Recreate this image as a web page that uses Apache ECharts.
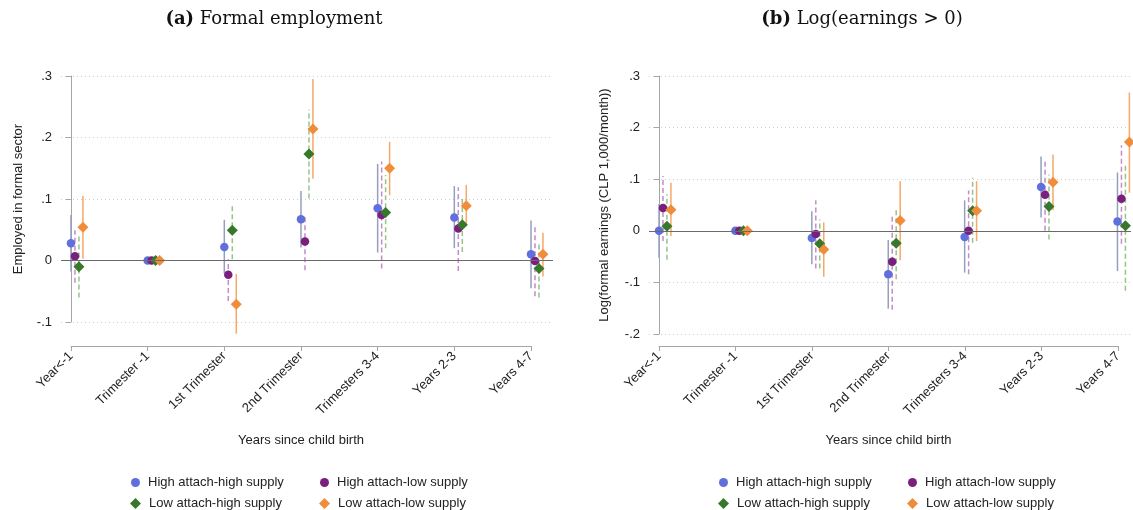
<!DOCTYPE html>
<html>
<head>
<meta charset="utf-8">
<script src="https://cdn.jsdelivr.net/npm/echarts@6/dist/echarts.min.js"></script>
<style>
  html, body { margin: 0; padding: 0; background: #fff; }
  #chart { width: 1133px; height: 510px; }
</style>
</head>
<body>
<div id="chart"></div>
<script>
// Event-time categories (x axis)
const categories = ['Year<-1', 'Trimester -1', '1st Trimester', '2nd Trimester', 'Trimesters 3-4', 'Years 2-3', 'Years 4-7'];
const groupNames = ['High attach-high supply', 'High attach-low supply', 'Low attach-high supply', 'Low attach-low supply'];

// y tick values
const empTicks = [-0.1, 0, 0.1, 0.2, 0.3];
const earnTicks = [-0.2, -0.1, 0, 0.1, 0.2, 0.3];

// (a) Formal employment: point estimates and 95% CI bounds
const empHHEst = [0.028, 0, 0.022, 0.067, 0.085, 0.070, 0.010];
const empHHLo  = [-0.018, 0, -0.021, 0.021, 0.013, 0.020, -0.045];
const empHHHi  = [0.074, 0, 0.066, 0.113, 0.157, 0.121, 0.065];

const empHLEst = [0.007, 0, -0.023, 0.031, 0.074, 0.052, -0.001];
const empHLLo  = [-0.036, 0, -0.066, -0.016, -0.013, -0.017, -0.058];
const empHLHi  = [0.049, 0, 0.002, 0.074, 0.161, 0.119, 0.055];

const empLHEst = [-0.010, 0, 0.049, 0.173, 0.078, 0.058, -0.013];
const empLHLo  = [-0.060, 0, 0.002, 0.101, 0.020, 0.014, -0.060];
const empLHHi  = [0.043, 0, 0.092, 0.245, 0.139, 0.102, 0.028];

const empLLEst = [0.054, 0, -0.071, 0.214, 0.150, 0.089, 0.010];
const empLLLo  = [0.003, 0, -0.119, 0.133, 0.106, 0.056, -0.026];
const empLLHi  = [0.105, 0, -0.022, 0.295, 0.193, 0.123, 0.045];

// (b) Log(earnings > 0): point estimates and 95% CI bounds
const earnHHEst = [0, 0, -0.014, -0.084, -0.012, 0.085, 0.018];
const earnHHLo  = [-0.052, 0, -0.065, -0.151, -0.081, 0.026, -0.078];
const earnHHHi  = [0.052, 0, 0.038, -0.018, 0.059, 0.144, 0.113];

const earnHLEst = [0.044, 0, -0.006, -0.060, 0.000, 0.070, 0.062];
const earnHLLo  = [-0.020, 0, -0.073, -0.153, -0.084, 0.000, -0.025];
const earnHLHi  = [0.106, 0, 0.059, 0.032, 0.078, 0.134, 0.166];

const earnLHEst = [0.009, 0, -0.025, -0.024, 0.039, 0.047, 0.010];
const earnLHLo  = [-0.056, 0, -0.073, -0.094, -0.023, -0.017, -0.116];
const earnLHHi  = [0.071, 0, 0.022, 0.040, 0.103, 0.109, 0.131];

const earnLLEst = [0.041, 0, -0.036, 0.020, 0.039, 0.094, 0.172];
const earnLLLo  = [-0.010, 0, -0.089, -0.057, -0.020, 0.040, 0.074];
const earnLLHi  = [0.093, 0, 0.016, 0.096, 0.096, 0.148, 0.268];

// styling per group
const offsets = [0, 0.052, 0.104, 0.156];
const pointColors = ['#5f6fdc', '#7b1f7e', '#37782a', '#f08c3a'];
const ciColors = ['#93a0bd', '#c58bcb', '#96c488', '#f5a868'];
const ciDash = [null, [5, 3], [5, 3], null];
const symbols = ['circle', 'circle', 'diamond', 'diamond'];
const symbolSizes = [8.5, 8.5, 11, 11];

const SANS = '"Liberation Sans", Arial, Helvetica, sans-serif';
const SERIF = '"DejaVu Serif", "Liberation Serif", serif';
const AXIS_GRAY = '#a6a6a6';

const empGroups = [
  { est: empHHEst, lo: empHHLo, hi: empHHHi },
  { est: empHLEst, lo: empHLLo, hi: empHLHi },
  { est: empLHEst, lo: empLHLo, hi: empLHHi },
  { est: empLLEst, lo: empLLLo, hi: empLLHi }
];
const earnGroups = [
  { est: earnHHEst, lo: earnHHLo, hi: earnHHHi },
  { est: earnHLEst, lo: earnHLLo, hi: earnHLHi },
  { est: earnLHEst, lo: earnLHLo, hi: earnLHHi },
  { est: earnLLEst, lo: earnLLLo, hi: earnLLHi }
];

function tickLabel(v) {
  const r = Math.round(v * 10) / 10;
  if (r === 0) return '0';
  return (r < 0 ? '-' : '') + Math.abs(r).toFixed(1).replace(/^0/, '');
}

function panelSeries(groups, xi, yi) {
  const out = [];
  groups.forEach((g, s) => {
    const ci = {
      type: 'custom',
      name: groupNames[s] + ' interval',
      xAxisIndex: xi,
      yAxisIndex: yi,
      z: 2,
      silent: true,
      clip: false,
      data: categories
        .map((c, k) => [k + offsets[s], g.lo[k], g.hi[k]])
        .filter(d => d[1] !== d[2]),
      renderItem: (params, api) => {
        const a = api.coord([api.value(0), api.value(1)]);
        const b = api.coord([api.value(0), api.value(2)]);
        return {
          type: 'line',
          shape: { x1: a[0], y1: a[1], x2: b[0], y2: b[1] },
          style: { stroke: ciColors[s], lineWidth: 1.5, lineDash: ciDash[s] }
        };
      }
    };
    if (s === 0) {
      ci.markLine = {
        silent: true,
        symbol: 'none',
        label: { show: false },
        lineStyle: { color: '#6a6a6a', width: 1, type: 'solid' },
        data: [{ yAxis: 0 }]
      };
    }
    out.push(ci);
  });
  groups.forEach((g, s) => {
    out.push({
      type: 'scatter',
      name: groupNames[s],
      xAxisIndex: xi,
      yAxisIndex: yi,
      z: 3,
      clip: false,
      symbol: symbols[s],
      symbolSize: symbolSizes[s],
      itemStyle: { color: pointColors[s], opacity: 1 },
      data: categories.map((c, k) => [k + offsets[s], g.est[k]])
    });
  });
  return out;
}

function pointAxis(gridIndex, min, max) {
  return { type: 'value', gridIndex, min, max, show: false, splitLine: { show: false } };
}

function labelAxis(gridIndex) {
  return {
    type: 'category',
    gridIndex,
    data: categories,
    boundaryGap: false,
    position: 'bottom',
    axisLine: { lineStyle: { color: AXIS_GRAY, width: 1 } },
    axisTick: { show: true, length: 5, lineStyle: { color: AXIS_GRAY } },
    axisLabel: { interval: 0, rotate: 45, fontSize: 13, color: '#222', fontFamily: SANS, margin: 8 },
    splitLine: { show: false },
    name: 'Years since child birth',
    nameLocation: 'middle',
    nameGap: 88,
    nameTextStyle: { fontSize: 13, color: '#222', fontFamily: SANS }
  };
}

function valueAxis(gridIndex, min, max, name, nameGap) {
  return {
    type: 'value',
    gridIndex,
    min, max, interval: 0.1,
    name,
    nameLocation: 'middle',
    nameRotate: 90,
    nameGap,
    nameTextStyle: { fontSize: 13, color: '#222', fontFamily: SANS },
    axisLine: { show: true, lineStyle: { color: AXIS_GRAY, width: 1 } },
    axisTick: { show: true, length: 5, lineStyle: { color: AXIS_GRAY } },
    axisLabel: { formatter: tickLabel, fontSize: 13, color: '#222', fontFamily: SANS, margin: 9 },
    splitLine: { show: true, lineStyle: { color: '#cfcfcf', width: 1, type: [1, 3] } }
  };
}

function dummyY(gridIndex) {
  return { type: 'value', gridIndex, show: false, splitLine: { show: false } };
}

// one legend entry per component so the two columns line up
function legendItem(groupIndex, left, top) {
  return {
    data: [{ name: groupNames[groupIndex], icon: symbols[groupIndex] }],
    left, top,
    padding: 0,
    itemWidth: groupIndex < 2 ? 9 : 11,
    itemHeight: groupIndex < 2 ? 9 : 11,
    selectedMode: false,
    textStyle: { fontSize: 13, color: '#222', fontFamily: SANS, padding: [0, 0, 0, 3] }
  };
}

const chart = echarts.init(document.getElementById('chart'), null, { renderer: 'canvas' });

const titleRich = { b: { fontWeight: 'bold', fontSize: 18, fontFamily: SERIF, fill: '#111' } };

chart.setOption({
  animation: false,
  backgroundColor: '#fff',
  graphic: [
    {
      type: 'text', x: 274, y: 19,
      style: {
        text: '{b|(a)} Formal employment',
        rich: titleRich,
        fontSize: 18, fontFamily: SERIF, fill: '#111',
        align: 'center', verticalAlign: 'middle'
      }
    },
    {
      type: 'text', x: 862, y: 19,
      style: {
        text: '{b|(b)} Log(earnings > 0)',
        rich: titleRich,
        fontSize: 18, fontFamily: SERIF, fill: '#111',
        align: 'center', verticalAlign: 'middle'
      }
    }
  ],
  grid: [
    { left: 61, top: 76, width: 492, height: 246 },
    { left: 71, top: 345, width: 460, height: 1 },
    { left: 649, top: 76, width: 482, height: 258 },
    { left: 659, top: 345, width: 459, height: 1 }
  ],
  xAxis: [
    pointAxis(0, -0.13, 6.287),
    labelAxis(1),
    pointAxis(2, -0.131, 6.177),
    labelAxis(3)
  ],
  yAxis: [
    valueAxis(0, empTicks[0], empTicks[empTicks.length - 1], 'Employed in formal sector', 36),
    dummyY(1),
    valueAxis(2, earnTicks[0], earnTicks[earnTicks.length - 1], 'Log(formal earnings (CLP 1,000/month))', 38),
    dummyY(3)
  ],
  legend: [
    legendItem(0, 131, 476),
    legendItem(2, 130, 497),
    legendItem(1, 320, 476),
    legendItem(3, 319, 497),
    legendItem(0, 719, 476),
    legendItem(2, 718, 497),
    legendItem(1, 908, 476),
    legendItem(3, 907, 497)
  ],
  series: [].concat(panelSeries(empGroups, 0, 0), panelSeries(earnGroups, 2, 2))
});
</script>
</body>
</html>
